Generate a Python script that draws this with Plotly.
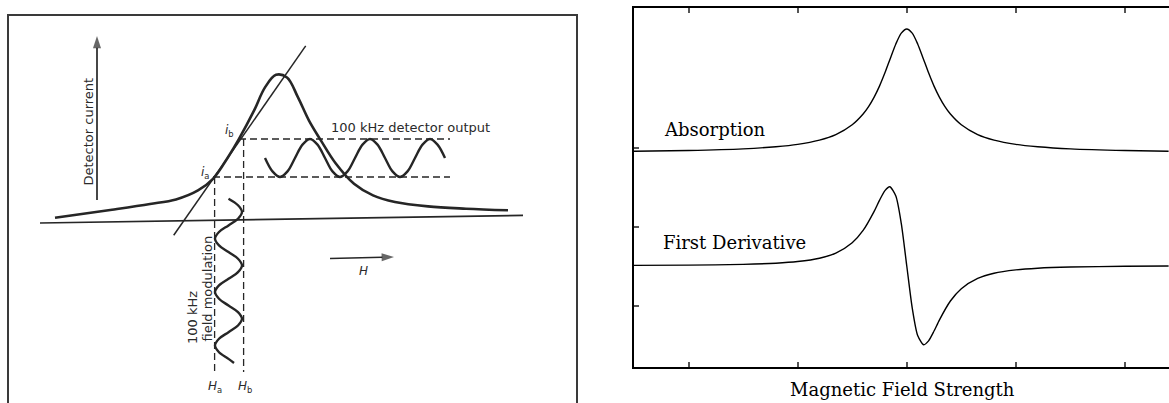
import plotly.graph_objects as go

# ---------------- Right panel: EPR absorption line and its first derivative ----------------
field = [-2.5, -2.0, -1.5, -1.2, -1.0, -0.8, -0.65, -0.5, -0.4, -0.35, -0.3, -0.25, -0.2, -0.15,
         -0.1, -0.05, 0.0, 0.05, 0.1, 0.15, 0.2, 0.25, 0.3, 0.35, 0.4, 0.5, 0.65, 0.8, 1.0, 1.2,
         1.5, 2.0, 2.4]
absorption = [0.958, 0.968, 0.989, 1.016, 1.046, 1.100, 1.170, 1.294, 1.430, 1.524, 1.641, 1.783,
              1.951, 2.137, 2.317, 2.454, 2.506, 2.454, 2.317, 2.137, 1.951, 1.783, 1.641, 1.524,
              1.430, 1.294, 1.170, 1.100, 1.046, 1.016, 0.989, 0.968, 0.959]

deriv_field = [-2.5, -2.0, -1.5, -1.2, -1.0, -0.8, -0.65, -0.5, -0.4, -0.3, -0.25, -0.2, -0.156,
               -0.1, -0.05, 0.0, 0.05, 0.1, 0.156, 0.2, 0.25, 0.3, 0.4, 0.5, 0.65, 0.8, 1.0, 1.2,
               1.5, 2.0, 2.4]
derivative = [-0.486, -0.483, -0.473, -0.458, -0.437, -0.395, -0.330, -0.199, -0.043, 0.195,
              0.337, 0.461, 0.510, 0.392, 0.043, -0.490, -1.023, -1.372, -1.490, -1.441, -1.317,
              -1.175, -0.937, -0.781, -0.651, -0.585, -0.543, -0.522, -0.507, -0.497, -0.494]

field_ticks = [-2, -1, 0, 1, 2]
signal_ticks = [-1, 0, 1]

# ---------------- Left panel: detector current vs. field (diagram units) ----------------
res_x = [55, 112, 150, 176, 198, 213, 228, 239, 254, 265, 276, 287, 298, 309, 321, 336, 354,
         373, 395, 428, 466, 508]
res_y = [217.7, 209.7, 204.0, 199.4, 190.4, 178.8, 157.2, 138.9, 110.7, 87.4, 74.8, 77.5, 97.4,
         120.6, 140.6, 163.8, 183.8, 195.4, 202.0, 206.4, 208.7, 210.3]

tangent_x = [173.7, 305.7]
tangent_y = [235.3, 45.9]

field_axis_x = [40, 523]
field_axis_y = [223.0, 215.4]

current_arrow_x, current_arrow_y = [97, 97], [200, 36]
h_arrow_x, h_arrow_y = [330, 394], [258.5, 257]

det_x = [265, 272.5, 280, 287.5, 295, 302.5, 310, 317.5, 325, 332.5, 340, 347.5, 355, 362.5, 370,
         377.5, 385, 392.5, 400, 407.5, 415, 422.5, 430, 437.5, 445]
det_y = [158, 171.4, 177, 171.4, 158, 144.6, 139, 144.6, 158, 171.4, 177, 171.4, 158, 144.6, 139,
         144.6, 158, 171.4, 177, 171.4, 158, 144.6, 139, 144.6, 158]

mod_x = [228.5, 238, 242, 238, 228.5, 219, 215, 219, 228.5, 238, 242, 238, 228.5, 219, 215, 219,
         228.5, 238, 242, 238, 228.5, 219, 215, 219, 228.5, 234]
mod_y = [198.7, 205.3, 212, 218.7, 225.4, 232, 238.7, 245.4, 252.1, 258.7, 265.4, 272.1, 278.8,
         285.4, 292.1, 298.8, 305.5, 312.1, 318.8, 325.5, 332.2, 338.8, 345.5, 352.2, 358.9, 363]

level_b_x, level_b_y = [239, 450], [139, 139]
level_a_x, level_a_y = [213, 450], [177, 177]
field_a_x, field_a_y = [214.6, 214.6], [177, 372]
field_b_x, field_b_y = [243.6, 243.6], [139, 372]

frame_x = [8, 8, 577, 577]
frame_y = [403, 15, 15, 403]

INK = "#262626"
W, H = 1169, 403

fig = go.Figure()

# right panel curves
fig.add_trace(go.Scatter(x=field, y=absorption, mode="lines",
                         line=dict(color="black", width=1.4, shape="spline", smoothing=0.7),
                         xaxis="x", yaxis="y", showlegend=False, hoverinfo="skip"))
fig.add_trace(go.Scatter(x=deriv_field, y=derivative, mode="lines",
                         line=dict(color="black", width=1.4, shape="spline", smoothing=0.7),
                         xaxis="x", yaxis="y", showlegend=False, hoverinfo="skip"))


# left panel diagram
def diag(x, y, width=2.4, dash=None, shape="linear", color=INK):
    fig.add_trace(go.Scatter(x=x, y=y, mode="lines",
                             line=dict(color=color, width=width, dash=dash, shape=shape),
                             xaxis="x2", yaxis="y2", showlegend=False, hoverinfo="skip"))


def diag_arrow(x, y):
    # shaft plus a filled arrowhead on the last point, oriented along the shaft
    fig.add_trace(go.Scatter(x=x, y=y, mode="lines+markers",
                             line=dict(color=INK, width=1.7),
                             marker=dict(symbol="arrow", angleref="previous",
                                         size=[0] * (len(x) - 1) + [13], color=INK,
                                         line=dict(width=0)),
                             xaxis="x2", yaxis="y2", showlegend=False, hoverinfo="skip"))


diag(frame_x, frame_y, width=2, color="#3a3a3a")
diag(field_axis_x, field_axis_y, width=1.6)
diag(tangent_x, tangent_y, width=1.5)
diag(res_x, res_y, width=2.6, shape="spline")
diag(level_b_x, level_b_y, width=1.3, dash="7px,4px")
diag(level_a_x, level_a_y, width=1.3, dash="7px,4px")
diag(field_a_x, field_a_y, width=1.3, dash="7px,4px")
diag(field_b_x, field_b_y, width=1.3, dash="7px,4px")
diag(det_x, det_y, width=2.4, shape="spline")
diag(mod_x, mod_y, width=2.4, shape="spline")
diag_arrow(current_arrow_x, current_arrow_y)
diag_arrow(h_arrow_x, h_arrow_y)

sans = dict(family="DejaVu Sans", size=13, color="#2a2a2a")
small = dict(family="DejaVu Sans", size=12, color="#2a2a2a")
serif = dict(family="DejaVu Serif", size=18, color="black")


def note(x, y, text, font, ref=("x2", "y2"), angle=0):
    return dict(x=x, y=y, xref=ref[0], yref=ref[1], text=text, textangle=angle,
                showarrow=False, font=font, xanchor="center", yanchor="middle")


annotations = [
    note(88, 131.5, "Detector current", sans, angle=-90),
    note(410.5, 127, "100 kHz detector output", sans),
    note(229, 131, "<i>i</i><sub>b</sub>", small),
    note(205, 173, "<i>i</i><sub>a</sub>", small),
    note(363, 271, "<i>H</i>", small),
    note(192, 318, "100 kHz", sans, angle=-90),
    note(207, 288.5, "field modulation", sans, angle=-90),
    note(215, 387, "<i>H</i><sub>a</sub>", small),
    note(245, 387, "<i>H</i><sub>b</sub>", small),
    # right panel labels
    note(-1.761, 1.228, "Absorption", serif, ref=("x", "y")),
    note(-1.583, -0.194, "First Derivative", serif, ref=("x", "y")),
    note(-0.04, (H - 389) / H, "Magnetic Field Strength", serif, ref=("x", "paper")),
]

fig.update_layout(
    width=W, height=H,
    margin=dict(l=0, r=0, t=0, b=0),
    paper_bgcolor="white", plot_bgcolor="white",
    showlegend=False,
    annotations=annotations,
    xaxis=dict(domain=[634 / W, 1.0], range=[-2.5, (W - 907) / 109],
               tickvals=field_ticks, ticks="inside", ticklen=5, tickwidth=1.5, tickcolor="#555",
               showticklabels=False, showgrid=False, zeroline=False,
               showline=True, linecolor="black", linewidth=2, mirror="ticks"),
    yaxis=dict(domain=[(H - 367) / H, (H - 8) / H], range=[-1.772, 2.772],
               tickvals=signal_ticks, ticks="inside", ticklen=5, tickwidth=1.5, tickcolor="#555",
               showticklabels=False, showgrid=False, zeroline=False,
               showline=True, linecolor="black", linewidth=2, mirror=False),
    xaxis2=dict(domain=[0, 580 / W], range=[0, 580], visible=False, fixedrange=True),
    yaxis2=dict(domain=[0, 1], range=[H, 0], visible=False, fixedrange=True),
)

fig.write_html("out.html")
